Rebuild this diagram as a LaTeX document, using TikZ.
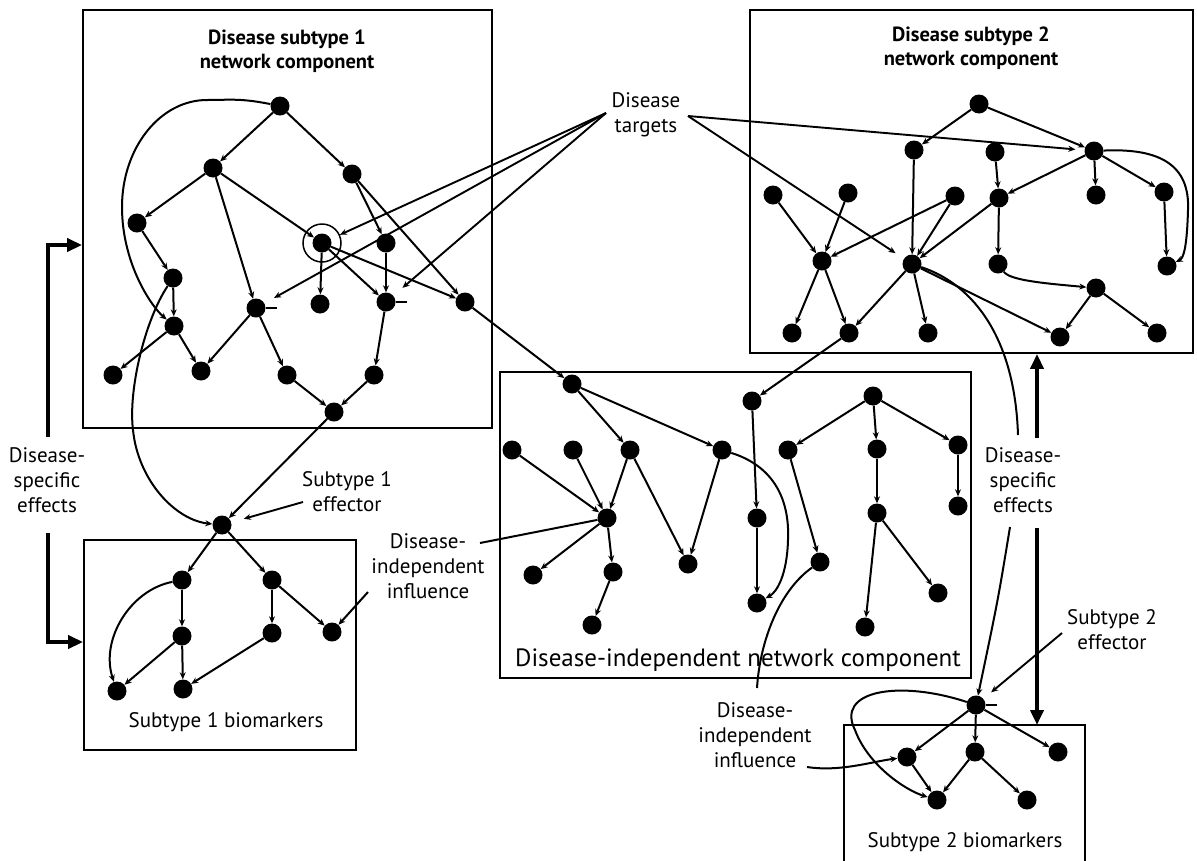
\documentclass[tikz,border=0pt]{standalone}
\usepackage{fontspec}
\setmainfont{PT Sans}
\usetikzlibrary{arrows.meta}
\begin{document}
\begin{tikzpicture}[x=1pt,y=-1pt,
  dot/.style={circle,fill=black,inner sep=0pt,minimum size=19pt},
  edg/.style={line width=2pt,-{Stealth[length=7pt,width=6pt]}},
  thinedg/.style={line width=1.3pt,-{Stealth[length=7pt,width=6pt]}},
  pl/.style={line width=2pt},
  ptr/.style={line width=1.9pt,-{Stealth[length=7pt,width=6pt]}},
  bx/.style={draw,line width=1.8pt,rectangle,inner sep=0pt},
  thickarr/.style={line width=4pt,-{Triangle[length=15pt,width=13pt]}},
  lbl/.style={align=center,font=\fontsize{21}{25}\selectfont,inner sep=0pt},
  ttl/.style={align=center,font=\bfseries\fontsize{20.5}{24}\selectfont,inner sep=0pt},
  tickmark/.style={line width=2pt}
]
\useasboundingbox[fill=white] (0,0) rectangle (1197,860);

% ---------- boxes ----------
\node[bx,minimum width=409pt,minimum height=418pt] (b1) at (287.5,219) {};
\node[bx,minimum width=443pt,minimum height=343pt] (b2) at (971.5,181.5) {};
\node[bx,minimum width=471pt,minimum height=306pt] (b3) at (735.5,525) {};
\node[bx,minimum width=272pt,minimum height=210pt] (b4) at (220,645) {};
\draw[line width=1.8pt] (844,861) -- (844,725) -- (1085,725) -- (1085,861);
\coordinate (b5top) at (1037,725);

% ---------- titles and labels ----------
\node[ttl] (t1) at (287,51) {Disease subtype 1\\network component};
\node[ttl] (t2) at (971,48) {Disease subtype 2\\network component};
\node[lbl] (tg) at (646,115) {Disease\\targets};
\node[lbl,font=\fontsize{25}{29}\selectfont] (t3) at (738,660) {Disease-independent network component};
\node[lbl] (t4) at (226,722) {Subtype 1 biomarkers};
\node[lbl] (t5) at (965,842) {Subtype 2 biomarkers};
\node[lbl] (dsl) at (47,480) {Disease-\\specific\\effects};
\node[lbl] (dsr) at (1023,480) {Disease-\\specific\\effects};
\node[lbl] (s1l) at (347,492) {Subtype 1\\effector};
\node[lbl] (s2l) at (1112,630) {Subtype 2\\effector};
\node[lbl] (il1) at (428,566) {Disease-\\independent\\influence};
\node[lbl] (il2) at (755,735) {Disease-\\independent\\influence};

% ---------- subtype 1 network ----------
\node[dot] (A1) at (280,106) {};
\node[dot] (A2) at (213,168) {};
\node[dot] (A3) at (352,174) {};
\node[dot] (A4) at (137,223) {};
\node[dot] (A5) at (322,243) {};
\node[dot] (A6) at (386,243) {};
\node[dot] (A7) at (173,278) {};
\node[dot] (A8) at (256,308) {};
\node[dot] (A9) at (320,304) {};
\node[dot] (A10) at (386,302) {};
\node[dot] (A11) at (465,302) {};
\node[dot] (A12) at (174,326) {};
\node[dot] (A13) at (113,375) {};
\node[dot] (A14) at (201,371) {};
\node[dot] (A15) at (287,375) {};
\node[dot] (A16) at (374,375) {};
\node[dot] (A17) at (334,412) {};
\node[circle,draw,line width=1.5pt,minimum size=38pt,inner sep=0pt] (Acirc) at (322,243) {};

\draw[edg] (A1) -- (A2);
\draw[edg] (A1) -- (A3);
\draw[edg] (A1) .. controls (240,98) and (230,100) .. (207,100) .. controls (160,100) and (122,148) .. (122,207) .. controls (122,262) and (150,305) .. (A12);
\draw[edg] (A2) -- (A4);
\draw[edg] (A2) -- (A8);
\draw[edg] (A2) -- (A5);
\draw[edg] (A3) -- (A6);
\draw[edg] (A3) -- (A11);
\draw[edg] (A4) -- (A7);
\draw[edg] (A7) -- (A12);
\draw[edg] (A12) -- (A13);
\draw[edg] (A12) -- (A14);
\draw[edg] (A8) -- (A14);
\draw[edg] (A8) -- (A15);
\draw[edg] (A5) -- (A9);
\draw[edg] (A5) -- (A10);
\draw[edg] (A5) -- (A11);
\draw[edg] (A6) -- (A10);
\draw[edg] (A10) -- (A16);
\draw[edg] (A15) -- (A17);
\draw[edg] (A16) -- (A17);
\draw[tickmark] (A8.east) -- ++(11,0);
\draw[tickmark] (A10.east) -- ++(11,0);

% ---------- subtype 2 network ----------
\node[dot] (C1) at (979,104) {};
\node[dot] (C2) at (914,150) {};
\node[dot] (C3) at (995,152) {};
\node[dot] (C4) at (1094,151) {};
\node[dot] (C5) at (773,195) {};
\node[dot] (C6) at (848,193) {};
\node[dot] (C7) at (955,196) {};
\node[dot] (C8) at (999,198) {};
\node[dot] (C9) at (1096,195) {};
\node[dot] (C10) at (1164,192) {};
\node[dot] (C11) at (822,261) {};
\node[dot] (C12) at (912,264) {};
\node[dot] (C13) at (998,264) {};
\node[dot] (C14) at (1167,266) {};
\node[dot] (C15) at (1096,288) {};
\node[dot] (C16) at (792,333) {};
\node[dot] (C17) at (849,333) {};
\node[dot] (C18) at (928,333) {};
\node[dot] (C19) at (1060,337) {};
\node[dot] (C20) at (1157,333) {};

\draw[edg] (C1) -- (C2);
\draw[edg] (C1) -- (C4);
\draw[edg] (C2) -- (C12);
\draw[edg] (C3) -- (C8);
\draw[edg] (C4) -- (C8);
\draw[edg] (C4) -- (C9);
\draw[edg] (C4) -- (C10);
\draw[edg] (C4) .. controls (1160,148) and (1190,165) .. (1188,210) .. controls (1187,245) and (1184,258) .. (C14);
\draw[edg] (C10) -- (C14);
\draw[edg] (C5) -- (C11);
\draw[edg] (C6) -- (C11);
\draw[edg] (C7) -- (C11);
\draw[edg] (C7) -- (C12);
\draw[edg] (C8) -- (C12);
\draw[edg] (C8) -- (C13);
\draw[edg] (C11) -- (C16);
\draw[edg] (C11) -- (C17);
\draw[edg] (C12) -- (C17);
\draw[edg] (C12) -- (C18);
\draw[edg] (C12) -- (C19);
\draw[edg] (C13) .. controls (1010,280) and (1040,283) .. (C15);
\draw[edg] (C15) -- (C19);
\draw[edg] (C15) -- (C20);

% ---------- disease-independent network ----------
\node[dot] (F1) at (572,384) {};
\node[dot] (F2) at (752,401) {};
\node[dot] (F3) at (873,396) {};
\node[dot] (F4) at (512,450) {};
\node[dot] (F5) at (573,450) {};
\node[dot] (F6) at (630,450) {};
\node[dot] (F7) at (722,450) {};
\node[dot] (F8) at (788,450) {};
\node[dot] (F9) at (877,449) {};
\node[dot] (F10) at (958,445) {};
\node[dot] (F11) at (607,518) {};
\node[dot] (F12) at (757,518) {};
\node[dot] (F13) at (877,513) {};
\node[dot] (F14) at (958,506) {};
\node[dot] (F15) at (533,575) {};
\node[dot] (F16) at (613,572) {};
\node[dot] (F17) at (688,564) {};
\node[dot] (F18) at (757,603) {};
\node[dot] (F19) at (820,562) {};
\node[dot] (F20) at (592,625) {};
\node[dot] (F21) at (865,627) {};
\node[dot] (F22) at (938,593) {};

\draw[edg] (A11) -- (F1);
\draw[edg] (C17) -- (F2);
\draw[edg] (F1) -- (F6);
\draw[edg] (F1) -- (F7);
\draw[edg] (F7) .. controls (770,465) and (790,495) .. (788,540) .. controls (787,575) and (777,592) .. (F18);
\draw[edg] (F2) -- (F12);
\draw[edg] (F12) -- (F18);
\draw[edg] (F3) -- (F8);
\draw[edg] (F3) -- (F9);
\draw[edg] (F3) -- (F10);
\draw[edg] (F9) -- (F13);
\draw[edg] (F10) -- (F14);
\draw[edg] (F4) -- (F11);
\draw[edg] (F5) -- (F11);
\draw[edg] (F6) -- (F11);
\draw[edg] (F6) -- (F17);
\draw[edg] (F7) -- (F17);
\draw[edg] (F11) -- (F15);
\draw[edg] (F11) -- (F16);
\draw[edg] (F16) -- (F20);
\draw[edg] (F8) -- (F19);
\draw[edg] (F13) -- (F21);
\draw[edg] (F13) -- (F22);

% ---------- subtype 1 biomarkers ----------
\node[dot] (E1) at (222,525) {};
\node[dot] (D1) at (182,580) {};
\node[dot] (D2) at (272,580) {};
\node[dot] (D3) at (182,636) {};
\node[dot] (D4) at (272,633) {};
\node[dot] (D5) at (332,632) {};
\node[dot] (D6) at (117,691) {};
\node[dot] (D7) at (183,689) {};

\draw[edg] (A17) -- (E1);
\draw[edg] (A7) .. controls (145,320) and (128,390) .. (133,430) .. controls (138,480) and (175,520) .. (E1);
\draw[edg] (E1) -- (D1);
\draw[edg] (E1) -- (D2);
\draw[edg] (D1) -- (D3);
\draw[edg] (D1) .. controls (130,590) and (100,640) .. (D6);
\draw[edg] (D3) -- (D7);
\draw[edg] (D3) -- (D6);
\draw[thinedg] (D2) -- (D4);
\draw[edg] (D2) -- (D5);
\draw[edg] (D4) -- (D7);

% ---------- subtype 2 biomarkers ----------
\node[dot] (E2) at (976,705) {};
\node[dot] (G1) at (907,757) {};
\node[dot] (G2) at (975,752) {};
\node[dot] (G3) at (1058,752) {};
\node[dot] (G4) at (937,800) {};
\node[dot] (G5) at (1027,800) {};

\draw[edg] (E2) -- (G1);
\draw[edg] (E2) -- (G2);
\draw[edg] (E2) -- (G3);
\draw[edg] (G1) -- (G4);
\draw[edg] (G2) -- (G4);
\draw[edg] (G2) -- (G5);
\draw[edg] (E2) .. controls (900,680) and (835,690) .. (855,730) .. controls (868,765) and (905,790) .. (G4);
\draw[tickmark] (E2.east) -- ++(11,0);

% ---------- cross-component connectors ----------
\coordinate (dsr1) at (1018,435);
\coordinate (dsr2) at (1010,527);
\draw[pl] (C12) .. controls (975,285) and (1015,340) .. (dsr1);
\draw[edg] (dsr2) .. controls (998,600) .. (E2);

\coordinate (il1e) at (480,543);
\coordinate (il1w) at (368,592);
\draw[pl] (F11) -- (il1e);
\draw[edg] (il1w) -- (D5);

\coordinate (il2t) at (757,688);
\coordinate (il2e) at (807,767);
\draw[pl] (F19) .. controls (780,590) and (760,640) .. (il2t);
\draw[edg] (il2e) .. controls (840,772) and (870,762) .. (G1);

% ---------- pointers ----------
\coordinate (tl) at (606,113);
\coordinate (tr) at (688,116);
\draw[ptr] (tl) -- (Acirc);
\draw[ptr,shorten >=11pt] (tl) -- (A8);
\draw[ptr,shorten >=12pt] (tl) -- (A10);
\draw[ptr,shorten >=9pt] (tr) -- (C4);
\draw[ptr,shorten >=10pt] (tr) -- (C12);

\coordinate (s1p) at (303,502);
\draw[ptr,shorten >=13pt] (s1p) -- (E1);
\coordinate (s2p) at (1062,633);
\draw[ptr,shorten >=10pt] (s2p) -- (E2);

% ---------- disease-specific effects ----------
\coordinate (L1) at (48,437);
\coordinate (L1b) at (48,245);
\draw[thickarr] (L1) -- (L1b) -- (b1.west |- L1b);
\coordinate (L2) at (48,533);
\coordinate (L2b) at (48,642);
\draw[thickarr] (L2) -- (L2b) -- (b4.west |- L2b);
\coordinate (R1) at (1037,438);
\draw[thickarr] (R1) -- (b2.south -| R1);
\coordinate (R2) at (1037,528);
\draw[thickarr] (R2) -- (b5top);
\end{tikzpicture}
\end{document}
